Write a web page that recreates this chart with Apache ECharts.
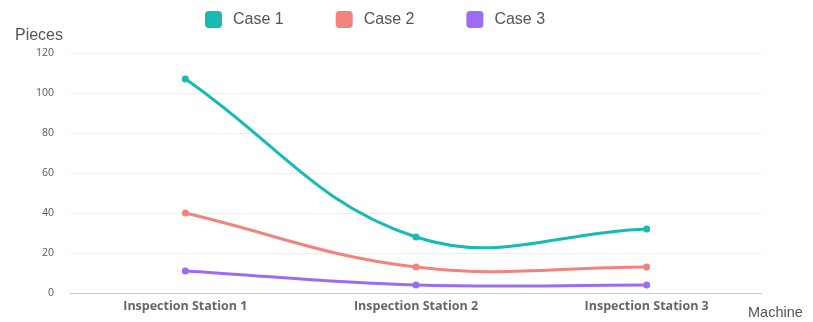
<!DOCTYPE html>
<html>
<head>
<meta charset="utf-8">
<script src="https://cdn.jsdelivr.net/npm/echarts@6/dist/echarts.min.js"></script>
<style>
  html, body { margin: 0; padding: 0; background: #fff; }
  #chart { width: 813px; height: 322px; }
</style>
</head>
<body>
<div id="chart"></div>
<script>
// Pieces per inspection station for each case
const stations = ['Inspection Station 1', 'Inspection Station 2', 'Inspection Station 3'];
const case1 = [107, 28, 32];
const case2 = [40, 13, 13];
const case3 = [11, 4, 4];
const seriesNames = ['Case 1', 'Case 2', 'Case 3'];
const colors = ['#17BAB4', '#F2837F', '#9C6CF2'];

// Cardinal-spline tension used for the curved lines
const TENSION = 0.4;

const chart = echarts.init(document.getElementById('chart'));

// Draws one case as a smooth spline: each data item renders its dot and
// the curve segment to the next station, with control points derived from
// the neighbouring points (projected through the axes via api.coord).
function splineSeries(name, values, color) {
  return {
    name: name,
    type: 'custom',
    coordinateSystem: 'cartesian2d',
    itemStyle: { color: color },
    data: values.map((v, i) => [i, v]),
    encode: { x: 0, y: 1 },
    renderItem: function (params, api) {
      const i = params.dataIndex;
      const pt = k => api.coord([k, values[k]]);
      const cur = pt(i);
      const children = [];
      if (i < values.length - 1) {
        const nxt = pt(i + 1);
        const prev = i > 0 ? pt(i - 1) : cur;
        const after = i + 2 < values.length ? pt(i + 2) : nxt;
        const dist = (a, b) => Math.hypot(b[0] - a[0], b[1] - a[1]);
        // outgoing control point at cur
        const d01 = dist(prev, cur), d12 = dist(cur, nxt);
        const fb = d01 + d12 > 0 ? TENSION * d12 / (d01 + d12) : 0;
        const cp1 = [cur[0] + fb * (nxt[0] - prev[0]), cur[1] + fb * (nxt[1] - prev[1])];
        // incoming control point at nxt
        const e01 = dist(cur, nxt), e12 = dist(nxt, after);
        const fa = e01 + e12 > 0 ? TENSION * e01 / (e01 + e12) : 0;
        const cp2 = [nxt[0] - fa * (after[0] - cur[0]), nxt[1] - fa * (after[1] - cur[1])];
        children.push({
          type: 'bezierCurve',
          shape: {
            x1: cur[0], y1: cur[1], x2: nxt[0], y2: nxt[1],
            cpx1: cp1[0], cpy1: cp1[1], cpx2: cp2[0], cpy2: cp2[1]
          },
          style: { stroke: color, lineWidth: 3, fill: null, lineCap: 'round' }
        });
      }
      children.push({
        type: 'circle',
        shape: { cx: cur[0], cy: cur[1], r: 3.5 },
        style: { fill: color },
        z2: 10
      });
      return { type: 'group', children: children };
    }
  };
}

// Square legend swatch with slightly rounded corners
const swatch = 'path://M3,0H11A3,3,0,0,1,14,3V11A3,3,0,0,1,11,14H3A3,3,0,0,1,0,11V3A3,3,0,0,1,3,0Z';

chart.setOption({
  animation: false,
  color: colors,
  legend: {
    top: 6,
    left: 200,
    itemWidth: 17,
    itemHeight: 17,
    itemGap: 52,
    icon: swatch,
    textStyle: {
      fontFamily: 'Liberation Sans, Arial', fontSize: 16, color: '#555',
      padding: [0, 0, 0, 6]
    },
    data: seriesNames
  },
  grid: { left: 70, right: 51, top: 53, bottom: 29 },
  xAxis: {
    type: 'category',
    data: stations,
    boundaryGap: true,
    name: 'Machine',
    nameLocation: 'end',
    nameGap: -14,
    nameTextStyle: {
      fontFamily: 'Liberation Sans, Arial', fontSize: 14.5, color: '#555',
      align: 'left', verticalAlign: 'top', padding: [12, 0, 0, 0]
    },
    axisLine: { lineStyle: { color: '#ccc' } },
    axisTick: { show: false },
    axisLabel: {
      fontFamily: 'Open Sans', fontWeight: 'bold', fontSize: 12.5, color: '#666', margin: 7
    }
  },
  yAxis: {
    type: 'value',
    min: 0, max: 120, interval: 20,
    name: 'Pieces',
    nameLocation: 'end',
    nameGap: 9,
    nameTextStyle: {
      fontFamily: 'Liberation Sans, Arial', fontSize: 16, color: '#555',
      align: 'right', padding: [0, 7, 0, 0]
    },
    axisLine: { show: false },
    axisTick: { show: false },
    axisLabel: { fontFamily: 'Open Sans', fontSize: 10.5, color: '#555', margin: 16 },
    splitLine: { lineStyle: { color: '#eee' } }
  },
  series: [
    splineSeries(seriesNames[0], case1, colors[0]),
    splineSeries(seriesNames[1], case2, colors[1]),
    splineSeries(seriesNames[2], case3, colors[2])
  ]
});
</script>
</body>
</html>
